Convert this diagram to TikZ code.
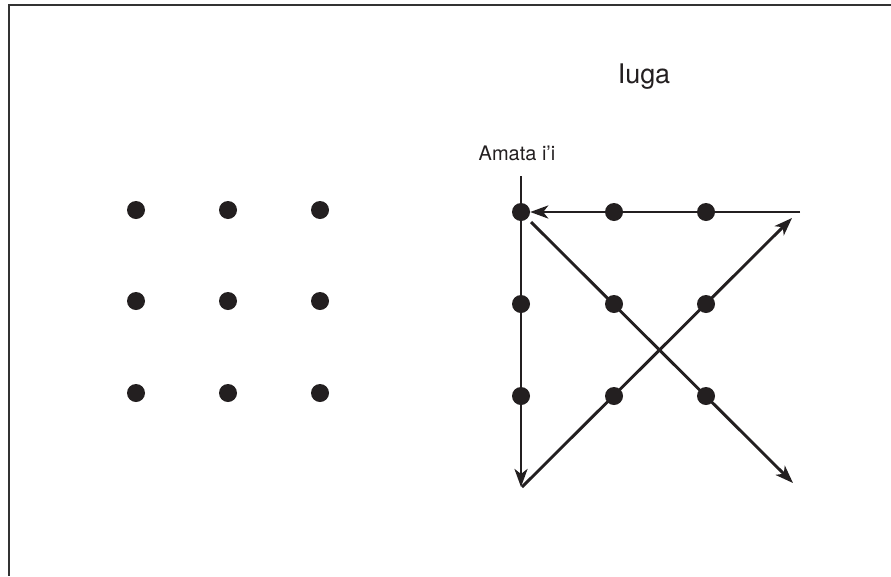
\documentclass[tikz,border=0pt]{standalone}
\usepackage{fontspec}
\setmainfont{TeX Gyre Heros}
\usetikzlibrary{arrows.meta}
\definecolor{ink}{HTML}{231F20}
\definecolor{frame}{HTML}{333333}
\begin{document}
\begin{tikzpicture}[x=1pt,y=-1pt,
  dot/.style={circle,fill=ink,inner sep=0pt,minimum size=18pt},
  conn/.style={draw=ink,line width=2.9pt},
  arr/.style={conn,-{Stealth[length=18pt,width=13pt,inset=5pt]}},
  lbl/.style={text=ink,inner sep=0pt}]
\useasboundingbox (0,0) rectangle (891,576);
\draw[frame,line width=2pt] (891,5) -- (9,5) -- (9,576);
% left grid
\foreach \i/\x in {1/136,2/228,3/320}
  \foreach \j/\y in {1/210,2/301,3/393}
    \node[dot] (L\i\j) at (\x,\y) {};
% right grid
\foreach \i/\x in {1/521,2/614,3/706}
  \foreach \j/\y in {1/212,2/304,3/396}
    \node[dot] (R\i\j) at (\x,\y) {};
\node[lbl,font=\fontsize{27}{30}\selectfont] (title) at (644,77) {Iuga};
\node[lbl,font=\fontsize{20}{22}\selectfont] (start) at (517,153) {Amata i'i};
\coordinate (vtop) at (521,176);
\coordinate (vbot) at (521,487);
\coordinate (hright) at (800,212);
\coordinate (d1s) at (531,222);
\coordinate (d1e) at (793,483);
\coordinate (d2s) at (522,487);
\coordinate (d2e) at (792,218);
\draw[arr] (vtop) -- (vbot);
\draw[arr] (hright) -- (R11.east);
\draw[arr] (d1s) -- (d1e);
\draw[arr] (d2s) -- (d2e);
\end{tikzpicture}
\end{document}
